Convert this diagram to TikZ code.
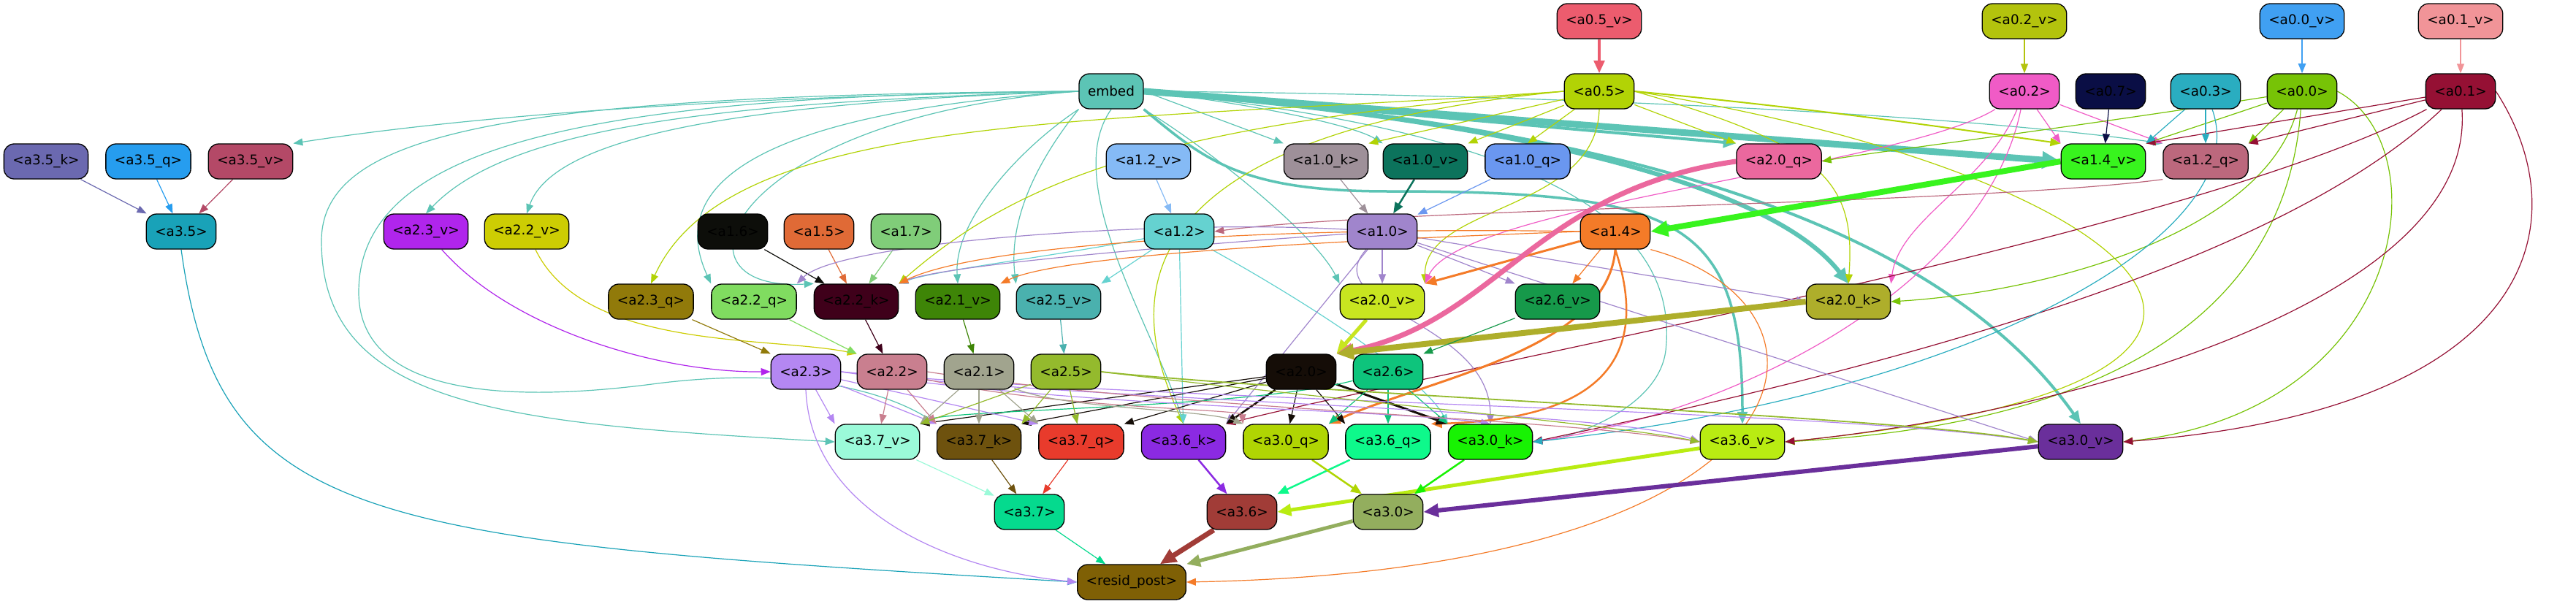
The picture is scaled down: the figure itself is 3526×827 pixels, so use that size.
\documentclass[tikz,border=0pt]{standalone}
\usepackage{fontspec}
\setmainfont{DejaVu Sans}
\usetikzlibrary{arrows.meta}
\definecolor{Cemb}{HTML}{5CC4B5}
\definecolor{C05v}{HTML}{EC5C6E}
\definecolor{C05}{HTML}{B2D305}
\definecolor{C02v}{HTML}{B3C30D}
\definecolor{C02}{HTML}{F05BC6}
\definecolor{C07}{HTML}{0A0E45}
\definecolor{C03}{HTML}{2AADC0}
\definecolor{C00v}{HTML}{40A0F2}
\definecolor{C00}{HTML}{77C306}
\definecolor{C01v}{HTML}{F19498}
\definecolor{C01}{HTML}{951034}
\definecolor{C35k}{HTML}{6B69B0}
\definecolor{C35q}{HTML}{269DEF}
\definecolor{C35v}{HTML}{B44967}
\definecolor{C10k}{HTML}{9E9099}
\definecolor{C10v}{HTML}{0C735C}
\definecolor{C10q}{HTML}{6A97F0}
\definecolor{C12v}{HTML}{85BAF5}
\definecolor{C20q}{HTML}{EB689E}
\definecolor{C14v}{HTML}{38F41E}
\definecolor{C12q}{HTML}{BC687D}
\definecolor{C35}{HTML}{19A2B8}
\definecolor{C23v}{HTML}{B025EC}
\definecolor{C22v}{HTML}{CDCD03}
\definecolor{C16}{HTML}{0D0E0A}
\definecolor{C15}{HTML}{E06A36}
\definecolor{C17}{HTML}{80CD79}
\definecolor{C12}{HTML}{65D2D0}
\definecolor{C10}{HTML}{A085CC}
\definecolor{C14}{HTML}{F47B28}
\definecolor{C23q}{HTML}{917A0A}
\definecolor{C22q}{HTML}{80DC60}
\definecolor{C22k}{HTML}{3F001A}
\definecolor{C21v}{HTML}{3E8507}
\definecolor{C25v}{HTML}{4AB1AE}
\definecolor{C20v}{HTML}{C8E520}
\definecolor{C26v}{HTML}{16994A}
\definecolor{C20k}{HTML}{AEAE2B}
\definecolor{C23}{HTML}{B487F2}
\definecolor{C22}{HTML}{C97F8F}
\definecolor{C21}{HTML}{A1A48E}
\definecolor{C25}{HTML}{94BA2D}
\definecolor{C20}{HTML}{150D07}
\definecolor{C26}{HTML}{0EC47C}
\definecolor{C37v}{HTML}{9BFAD9}
\definecolor{C37k}{HTML}{6E520E}
\definecolor{C37q}{HTML}{E83B2C}
\definecolor{C36k}{HTML}{8B2AE2}
\definecolor{C30q}{HTML}{B0D503}
\definecolor{C36q}{HTML}{0EF98B}
\definecolor{C30k}{HTML}{18F203}
\definecolor{C36v}{HTML}{B9EC12}
\definecolor{C30v}{HTML}{6A2F9B}
\definecolor{C37}{HTML}{05DA8E}
\definecolor{C36}{HTML}{A13C37}
\definecolor{C30}{HTML}{93AE5E}
\definecolor{Cres}{HTML}{7F6005}
\pgfdeclarelayer{back}
\pgfdeclarelayer{bg}
\pgfsetlayers{back,bg,main}
\begin{document}
\begin{tikzpicture}[x=1pt,y=-1pt,
  nd/.style={draw=black, line width=1.3pt, rounded corners=14pt, minimum height=48pt, inner xsep=12pt, inner ysep=0pt, font=\fontsize{18.4}{22}\selectfont, text=black},
  edg/.style={-{Triangle[length=11pt 1.6,width=8pt 1.6]}, line width=1.2pt}]
\useasboundingbox (0,0) rectangle (3526,827);
\begin{pgfonlayer}{back}
\fill[white] (0,0) rectangle (3526,827);
\end{pgfonlayer}
% row 1
\node[nd,fill=C05v] (a05v) at (2189,29) {<a0.5\_v>};
\node[nd,fill=C02v] (a02v) at (2771,29) {<a0.2\_v>};
\node[nd,fill=C00v] (a00v) at (3151,29) {<a0.0\_v>};
\node[nd,fill=C01v] (a01v) at (3368,29) {<a0.1\_v>};
% row 2
\node[nd,fill=Cemb] (embed) at (1521,125) {embed};
\node[nd,fill=C05] (a05) at (2189,125) {<a0.5>};
\node[nd,fill=C02] (a02) at (2771,125) {<a0.2>};
\node[nd,fill=C07] (a07) at (2889,125) {<a0.7>};
\node[nd,fill=C03] (a03) at (3019,125) {<a0.3>};
\node[nd,fill=C00] (a00) at (3151,125) {<a0.0>};
\node[nd,fill=C01] (a01) at (3368,125) {<a0.1>};
% row 3
\node[nd,fill=C35k] (a35k) at (63,221) {<a3.5\_k>};
\node[nd,fill=C35q] (a35q) at (203,221) {<a3.5\_q>};
\node[nd,fill=C35v] (a35v) at (343,221) {<a3.5\_v>};
\node[nd,fill=C12v] (a12v) at (1572,221) {<a1.2\_v>};
\node[nd,fill=C10k] (a10k) at (1815,221) {<a1.0\_k>};
\node[nd,fill=C10v] (a10v) at (1951,221) {<a1.0\_v>};
\node[nd,fill=C10q] (a10q) at (2091,221) {<a1.0\_q>};
\node[nd,fill=C20q] (a20q) at (2435,221) {<a2.0\_q>};
\node[nd,fill=C14v] (a14v) at (2879,221) {<a1.4\_v>};
\node[nd,fill=C12q] (a12q) at (3019,221) {<a1.2\_q>};
% row 4
\node[nd,fill=C35] (a35) at (248,317) {<a3.5>};
\node[nd,fill=C23v] (a23v) at (583,317) {<a2.3\_v>};
\node[nd,fill=C22v] (a22v) at (721,317) {<a2.2\_v>};
\node[nd,fill=C16] (a16) at (1003,317) {<a1.6>};
\node[nd,fill=C15] (a15) at (1121,317) {<a1.5>};
\node[nd,fill=C17] (a17) at (1240,317) {<a1.7>};
\node[nd,fill=C12] (a12) at (1614,317) {<a1.2>};
\node[nd,fill=C10] (a10) at (1892,317) {<a1.0>};
\node[nd,fill=C14] (a14) at (2211,317) {<a1.4>};
% row 5
\node[nd,fill=C23q] (a23q) at (891,413) {<a2.3\_q>};
\node[nd,fill=C22q] (a22q) at (1032,413) {<a2.2\_q>};
\node[nd,fill=C22k] (a22k) at (1172,413) {<a2.2\_k>};
\node[nd,fill=C21v] (a21v) at (1311,413) {<a2.1\_v>};
\node[nd,fill=C25v] (a25v) at (1449,413) {<a2.5\_v>};
\node[nd,fill=C20v] (a20v) at (1892,413) {<a2.0\_v>};
\node[nd,fill=C26v] (a26v) at (2132,413) {<a2.6\_v>};
\node[nd,fill=C20k] (a20k) at (2530,413) {<a2.0\_k>};
% row 6
\node[nd,fill=C23] (a23) at (1103,509) {<a2.3>};
\node[nd,fill=C22] (a22) at (1221,509) {<a2.2>};
\node[nd,fill=C21] (a21) at (1340,509) {<a2.1>};
\node[nd,fill=C25] (a25) at (1459,509) {<a2.5>};
\node[nd,fill=C20] (a20) at (1781,509) {<a2.0>};
\node[nd,fill=C26] (a26) at (1900,509) {<a2.6>};
% row 7
\node[nd,fill=C37v] (a37v) at (1201,605) {<a3.7\_v>};
\node[nd,fill=C37k] (a37k) at (1340,605) {<a3.7\_k>};
\node[nd,fill=C37q] (a37q) at (1480,605) {<a3.7\_q>};
\node[nd,fill=C36k] (a36k) at (1620,605) {<a3.6\_k>};
\node[nd,fill=C30q] (a30q) at (1760,605) {<a3.0\_q>};
\node[nd,fill=C36q] (a36q) at (1900,605) {<a3.6\_q>};
\node[nd,fill=C30k] (a30k) at (2040,605) {<a3.0\_k>};
\node[nd,fill=C36v] (a36v) at (2385,605) {<a3.6\_v>};
\node[nd,fill=C30v] (a30v) at (2848,605) {<a3.0\_v>};
% row 8
\node[nd,fill=C37] (a37) at (1409,701) {<a3.7>};
\node[nd,fill=C36] (a36) at (1700,701) {<a3.6>};
\node[nd,fill=C30] (a30) at (1900,701) {<a3.0>};
% row 9
\node[nd,fill=Cres] (res) at (1549,797) {<resid\_post>};

\begin{pgfonlayer}{bg}
% top verticals
\draw[edg,C05v,line width=4pt] (a05v) -- (a05);
\draw[edg,C02v] (a02v) -- (a02);
\draw[edg,C00v,line width=1.6pt] (a00v) -- (a00);
\draw[edg,C01v] (a01v) -- (a01);
% a3.5
\draw[edg,C35k] (a35k) -- (a35);
\draw[edg,C35q] (a35q) -- (a35);
\draw[edg,C35v] (a35v) -- (a35);
\draw[edg,C35] (a35.south) .. controls (300,720) and (500,740) .. (res.west);
% embed
\draw[edg,Cemb] (embed.west) .. controls (1100,130) and (700,150) .. (a35v.north east);
\draw[edg,Cemb] (embed.west) .. controls (1000,140) and (700,170) .. (a23v.north);
\draw[edg,Cemb] (embed.west) .. controls (1050,140) and (760,180) .. (a22v.north);
\draw[edg,Cemb] (embed.west) .. controls (1100,150) and (900,230) .. (a22q.north west);
\draw[edg,Cemb] (embed.west) .. controls (1000,160) and (900,400) .. (a22k.north west);
\draw[edg,Cemb] (embed.west) .. controls (700,130) and (440,180) .. (440,330) .. controls (440,560) and (700,580) .. (a37v.west);
\draw[edg,Cemb] (embed.west) .. controls (800,130) and (491,200) .. (491,400) .. controls (491,560) and (750,545) .. (900,525) .. controls (1100,500) and (1220,540) .. (a37k.north west);
\draw[edg,Cemb] (embed.south west) .. controls (1400,200) and (1305,300) .. (a21v.north);
\draw[edg,Cemb] (embed.south west) .. controls (1420,220) and (1380,300) .. (a25v.north west);
\draw[edg,Cemb] (embed.south) .. controls (1450,250) and (1580,450) .. (a36k.north);
\draw[edg,Cemb] (embed.south east) .. controls (1650,200) and (1800,320) .. (a20v.north west);
\draw[edg,Cemb] (embed.east) -- (a10k.north west);
\draw[edg,Cemb] (embed.east) .. controls (1700,140) and (1850,170) .. (a10v.north west);
\draw[edg,Cemb,line width=4pt] (embed.east) -- (a20q.north west);
\draw[edg,Cemb,line width=9pt] (embed.east) -- (a14v.west);
\draw[edg,Cemb] (embed.east) .. controls (2200,130) and (2700,160) .. (a12q.north west);
\draw[edg,Cemb,line width=6pt] (embed.east) .. controls (1900,150) and (2400,220) .. (a20k.north);
\draw[edg,Cemb,line width=3.5pt] (embed.south east) .. controls (1650,220) and (1700,262) .. (1900,262) .. controls (2300,262) and (2385,300) .. (a36v.north);
\draw[edg,Cemb,line width=4pt] (embed.east) .. controls (2200,170) and (2650,300) .. (a30v.north);
\draw[edg,Cemb] (embed.east) .. controls (2100,180) and (2300,300) .. (2280,480) .. controls (2270,560) and (2150,600) .. (a30k.east);
% a0.5
\draw[edg,C05] (a05) -- (a10k.north east);
\draw[edg,C05] (a05) -- (a10v.north east);
\draw[edg,C05] (a05) -- (a10q.north);
\draw[edg,C05] (a05) -- (a20q.north west);
\draw[edg,C05,line width=2pt] (a05.east) .. controls (2500,150) and (2700,180) .. (a14v.north west);
\draw[edg,C05] (a05.west) .. controls (1500,170) and (1000,150) .. (a23q.north);
\draw[edg,C05] (a05.west) .. controls (1600,170) and (1400,240) .. (a22k.north east);
\draw[edg,C05] (a05.west) .. controls (1480,190) and (1560,450) .. (a36k.north);
\draw[edg,C05] (a05.south) .. controls (2185,290) and (1950,280) .. (a20v.north east);
\draw[edg,C05] (a05.east) .. controls (2500,200) and (2540,250) .. (a20k.north);
\draw[edg,C05] (a05.east) .. controls (2900,230) and (3300,520) .. (a36v.east);
% a0.2
\draw[edg,C02] (a02) -- (a14v.north west);
\draw[edg,C02] (a02) -- (a12q.north west);
\draw[edg,C02] (a02) .. controls (2600,230) and (2000,280) .. (a20v.north east);
\draw[edg,C02] (a02) .. controls (2720,250) and (2600,300) .. (a20k.north east);
\draw[edg,C02] (a02) .. controls (2720,380) and (2400,560) .. (a30k.east);
% a0.0
\draw[edg,C00] (a00) .. controls (2800,180) and (2550,210) .. (a20q.east);
\draw[edg,C00] (a00) -- (a14v.north east);
\draw[edg,C00] (a00) -- (a12q.north east);
\draw[edg,C00] (a00) .. controls (3100,320) and (2800,400) .. (a20k.east);
\draw[edg,C00] (a00) .. controls (3130,420) and (2900,580) .. (a36v.east);
\draw[edg,C00] (a00.east) .. controls (3340,200) and (3300,560) .. (a30v.east);
% a0.1
\draw[edg,C01] (a01) -- (a14v.north east);
\draw[edg,C01] (a01) -- (a12q.north east);
\draw[edg,C01] (a01) .. controls (3000,320) and (2000,500) .. (a36k.north east);
\draw[edg,C01] (a01) .. controls (3100,380) and (2500,520) .. (a30k.east);
\draw[edg,C01] (a01) .. controls (3390,420) and (2800,570) .. (a36v.east);
\draw[edg,C01] (a01.east) .. controls (3530,300) and (3480,560) .. (a30v.east);
% a0.3, a0.7
\draw[edg,C03] (a03) -- (a14v.north east);
\draw[edg,C03] (a03) -- (a12q);
\draw[edg,C03] (a03) .. controls (3090,320) and (2700,540) .. (a30k.east);
\draw[edg,C07] (a07) -- (a14v);
% layer 1
\draw[edg,C12v] (a12v) -- (a12);
\draw[edg,C10k] (a10k) -- (a10);
\draw[edg,C10v,line width=2.5pt] (a10v) -- (a10);
\draw[edg,C10q] (a10q) -- (a10);
\draw[edg,C14v,line width=8pt] (a14v.west) -- (a14.east);
\draw[edg,C12q] (a12q.south west) .. controls (2700,280) and (1900,285) .. (a12.east);
\draw[edg,C16] (a16) -- (a22k);
\draw[edg,C15] (a15) -- (a22k);
\draw[edg,C17] (a17) -- (a22k);
% a1.2
\draw[edg,C12] (a12) .. controls (1450,350) and (1280,370) .. (a22k.north east);
\draw[edg,C12] (a12) -- (a25v.north east);
\draw[edg,C12] (a12) -- (a36k);
\draw[edg,C12] (a12) .. controls (1800,420) and (1950,520) .. (a30k.north west);
% a1.0
\draw[edg,C10] (a10) -- (a20v);
\draw[edg,C10] (a10) -- (a26v.north west);
\draw[edg,C10] (a10) -- (a20k.west);
\draw[edg,C10] (a10) .. controls (1700,330) and (1300,360) .. (a22k.north east);
\draw[edg,C10] (a10) .. controls (1600,300) and (1150,330) .. (a22q.north east);
\draw[edg,C10] (a10) -- (a30v.west);
\draw[edg,C10] (a10) .. controls (1800,420) and (2040,440) .. (a30k.north);
\draw[edg,C10] (a10) -- (a36k.north east);
% a1.4
\draw[edg,C14,line width=3pt] (a14) -- (a20v.north east);
\draw[edg,C14] (a14) -- (a26v);
\draw[edg,C14] (a14.west) .. controls (1800,330) and (1450,350) .. (a21v.north east);
\draw[edg,C14] (a14.west) .. controls (1800,310) and (1350,330) .. (a22k.north east);
\draw[edg,C14,line width=3pt] (a14.south) .. controls (2200,480) and (1950,520) .. (a30q.north east);
\draw[edg,C14,line width=2.5pt] (a14.south) .. controls (2270,520) and (2150,575) .. (a36q.north east);
\draw[edg,C14] (a14.south east) .. controls (2550,420) and (2500,780) .. (res.east);
% into a2.0
\draw[edg,C20v,line width=5pt] (a20v) -- (a20.north east);
\draw[edg,C20q,line width=7pt] (a20q.west) .. controls (2100,260) and (2050,440) .. (a20.north east);
\draw[edg,C20k,line width=8pt] (a20k.west) -- (a20.north east);
\draw[edg,C26v] (a26v) -- (a26.north east);
% layer 2 inputs
\draw[edg,C23v] (a23v) .. controls (700,450) and (900,510) .. (a23.west);
\draw[edg,C22v] (a22v) .. controls (800,480) and (1050,460) .. (a22.north west);
\draw[edg,C23q] (a23q) -- (a23.north west);
\draw[edg,C22q] (a22q) -- (a22.north west);
\draw[edg,C22k] (a22k) -- (a22);
\draw[edg,C21v] (a21v) -- (a21);
\draw[edg,C25v] (a25v) -- (a25);
% a2.0
\draw[edg,C20] (a20) -- (a37v.north east);
\draw[edg,C20] (a20) -- (a37k.north east);
\draw[edg,C20] (a20) -- (a37q.north east);
\draw[edg,C20,line width=2.5pt] (a20) -- (a36k.north east);
\draw[edg,C20] (a20) -- (a30q);
\draw[edg,C20] (a20) -- (a36q.north west);
\draw[edg,C20,line width=3pt] (a20) -- (a30k.north west);
% a2.6
\draw[edg,C26] (a26) -- (a30q.north east);
\draw[edg,C26] (a26) -- (a36q);
\draw[edg,C26] (a26) -- (a30k.north west);
\draw[edg,C26] (a26) .. controls (1700,560) and (1300,560) .. (a37v.north east);
% a2.3
\draw[edg,C23] (a23) -- (a37v.north west);
\draw[edg,C23] (a23) -- (a37k.north west);
\draw[edg,C23] (a23) -- (a37q.north west);
\draw[edg,C23] (a23.east) .. controls (1500,560) and (1900,560) .. (a30k.north);
\draw[edg,C23] (a23.east) .. controls (1500,550) and (2200,560) .. (a36v.west);
\draw[edg,C23] (a23.east) .. controls (1600,550) and (2500,560) .. (a30v.west);
\draw[edg,C23] (a23.south) .. controls (1110,700) and (1300,780) .. (res.west);
% a2.2
\draw[edg,C22] (a22) -- (a37v);
\draw[edg,C22] (a22) -- (a37k.north west);
\draw[edg,C22] (a22.east) .. controls (1600,560) and (2100,570) .. (a36v.west);
\draw[edg,C22] (a22) .. controls (1450,560) and (1700,560) .. (a30q.north west);
% a2.1
\draw[edg,C21] (a21) -- (a37v.north east);
\draw[edg,C21] (a21) -- (a37k);
\draw[edg,C21] (a21) -- (a37q.north west);
\draw[edg,C21] (a21) .. controls (1450,560) and (1650,560) .. (a30q.north west);
% a2.5
\draw[edg,C25] (a25) -- (a37v.north east);
\draw[edg,C25] (a25) -- (a37k.north east);
\draw[edg,C25] (a25) -- (a37q);
\draw[edg,C25,line width=1.8pt] (a25.east) .. controls (1800,540) and (2600,570) .. (a30v.west);
\draw[edg,C25] (a25.east) .. controls (1800,545) and (2200,580) .. (a36v.west);
% layer 3
\draw[edg,C37v] (a37v) -- (a37);
\draw[edg,C37k] (a37k) -- (a37);
\draw[edg,C37q] (a37q) -- (a37);
\draw[edg,C36k,line width=2.5pt] (a36k) -- (a36);
\draw[edg,C36q,line width=2.5pt] (a36q) -- (a36.north east);
\draw[edg,C36v,line width=5pt] (a36v) -- (a36.east);
\draw[edg,C30q,line width=2.5pt] (a30q) -- (a30);
\draw[edg,C30k,line width=2.5pt] (a30k) -- (a30);
\draw[edg,C30v,line width=6pt] (a30v) -- (a30.east);
% output
\draw[edg,C37] (a37) -- (res);
\draw[edg,C36,line width=7pt] (a36) -- (res);
\draw[edg,C30,line width=5pt] (a30) -- (res.north east);
\end{pgfonlayer}
\end{tikzpicture}
\end{document}
